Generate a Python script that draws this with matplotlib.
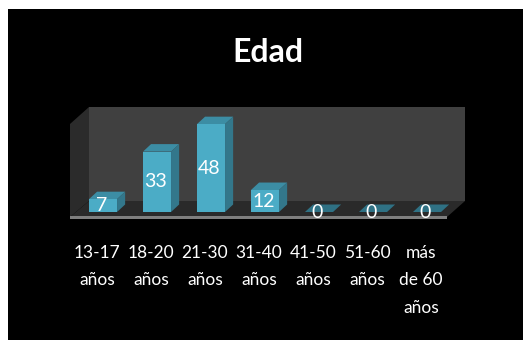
import matplotlib
matplotlib.use('Agg')
import matplotlib.pyplot as plt
from matplotlib.patches import Polygon, Rectangle
from matplotlib.transforms import ScaledTranslation

# data
categories = ['13-17\naños', '18-20\naños', '21-30\naños', '31-40\naños',
              '41-50\naños', '51-60\naños', 'más\nde 60\naños']
values = [7, 33, 48, 12, 0, 0, 0]
title = 'Edad'

W, H = 523, 340
BAR_W = 0.52
DX = 0.15    # bar depth, x units
DY = 4.1     # bar depth, y units

plt.rcParams['font.family'] = ['Lato', 'DejaVu Sans']

fig = plt.figure(figsize=(W / 100, H / 100), dpi=100, facecolor='white')
# black slide behind the chart, white strip left and top
fig.patches.append(Rectangle((8 / W, 0), 1, 1 - 9 / H, transform=fig.transFigure,
                             facecolor='black', edgecolor='none', zorder=-1))

# axes placed so that one category = 54 px and one unit = 1.83 px
ax = fig.add_axes([76 / W, (H - 217) / H, 378 / W, 110 / H])
ax.set_xlim(-0.5, 6.5)
ax.set_ylim(-5 / 1.83, 105 / 1.83)
ax.patch.set_visible(False)
for s in ax.spines.values():
    s.set_visible(False)


def px(x, y):
    # pixel position in the reference -> data coords, used for the box only
    return (x - 76) / 54 - 0.5, (212 - y) / 1.83


def box_poly(points, color, z):
    ax.add_patch(Polygon([px(*p) for p in points], closed=True, facecolor=color,
                         edgecolor='none', zorder=z, clip_on=False))


# chart box: back wall, side wall, floor
box_poly([(89, 107), (465, 107), (465, 201), (89, 201)], '#404040', 1)
box_poly([(70, 124), (89, 107), (89, 201), (70, 217)], '#2b2b2b', 1)
box_poly([(70, 217), (447, 217), (465, 201), (89, 201)], '#2a2a2a', 1)
box_poly([(70, 218.5), (447, 218.5), (447, 216), (70, 216)], '#7f7f7f', 2)

# bars: front from ax.bar, top and side as polygons
xs = list(range(len(values)))
ax.bar(xs, values, width=BAR_W, color='#4bacc6', edgecolor='none', zorder=4)
for x, v in zip(xs, values):
    l, r = x - BAR_W / 2, x + BAR_W / 2
    top_color = '#3c8da4' if v > 0 else '#2f7184'
    ax.add_patch(Polygon([(l, v), (r, v), (r + DX, v + DY), (l + DX, v + DY)],
                         facecolor=top_color, edgecolor='none', zorder=3, clip_on=False))
    if v > 0:
        ax.add_patch(Polygon([(r, 0), (r + DX, DY), (r + DX, v + DY), (r, v)],
                             facecolor='#33778b', edgecolor='none', zorder=3, clip_on=False))
    ax.text(x - 0.03, v / 2, str(v), color='white', fontsize=14, ha='center',
            va='center', zorder=6)

ax.set_xticks(xs)
ax.set_xticklabels(categories, color='white', fontsize=12.5, linespacing=1.9)
ax.tick_params(axis='x', length=0, pad=20)
ax.set_yticks([])
# labels sit a little left of the bar fronts
shift = ScaledTranslation(-6 / 100, 0, fig.dpi_scale_trans)
for lab in ax.get_xticklabels():
    lab.set_transform(lab.get_transform() + shift)

fig.text(268 / W, (H - 52) / H, title, color='white', fontsize=23, fontweight='bold',
         ha='center', va='center')

fig.savefig('out.png', dpi=100, facecolor=fig.get_facecolor())
plt.close(fig)
